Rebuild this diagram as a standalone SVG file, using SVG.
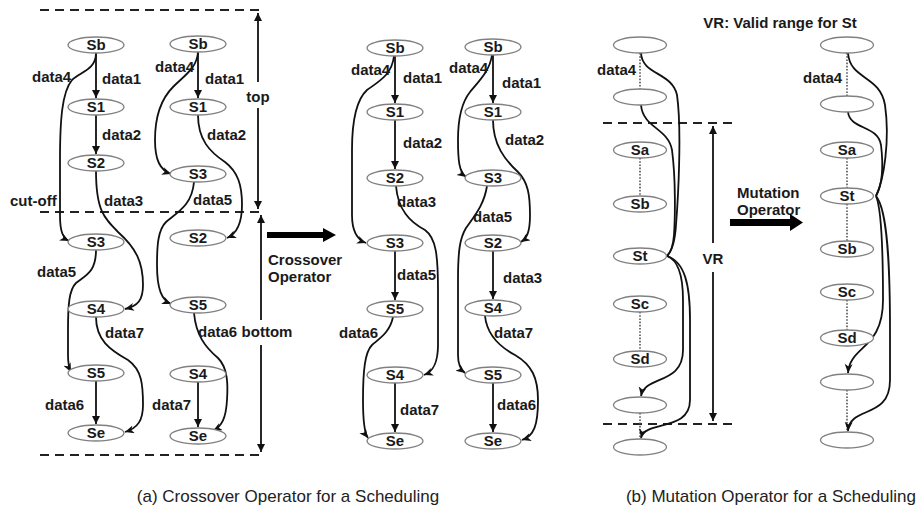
<svg xmlns="http://www.w3.org/2000/svg" width="923" height="510" viewBox="0 0 923 510">
<style>
  .bg{fill:#ffffff}
  .node ellipse{fill:#ffffff;stroke:#808080;stroke-width:1.3}
  .node text,.lbl,.title{font-family:"Liberation Sans",Arial,sans-serif;font-weight:bold;font-size:15px;fill:#1a1a1a}
  .node text{text-anchor:middle}
  .edge{fill:none;stroke:#111;stroke-width:1.8}
  .cur{marker-end:url(#barb)}
  .str{marker-end:url(#tri)}
  .dot{fill:none;stroke:#555;stroke-width:1.6;stroke-dasharray:1.6 1.6}
  .dash{fill:none;stroke:#222;stroke-width:2;stroke-dasharray:9 6}
  .vline{fill:none;stroke:#111;stroke-width:1.8;marker-end:url(#tri);marker-start:url(#tri)}
  .vhalf{fill:none;stroke:#111;stroke-width:1.8}
  .cap{font-family:"Liberation Sans",Arial,sans-serif;font-size:17px;fill:#222;text-anchor:middle}
  .bigarrow{fill:#000}
</style>
<defs>
  <marker id="barb" markerUnits="userSpaceOnUse" markerWidth="11" markerHeight="9" refX="9" refY="4" orient="auto">
    <path d="M0,0 L9,4 L0,8 L2.5,4 z" fill="#111"/>
  </marker>
  <marker id="tri" markerUnits="userSpaceOnUse" markerWidth="10" markerHeight="9" refX="8" refY="4" orient="auto-start-reverse">
    <path d="M0,0 L8,4 L0,8 z" fill="#111"/>
  </marker>
</defs>
<rect class="bg" x="0" y="0" width="923" height="510"/>

<g id="guides">
  <line class="dash" x1="40" y1="10" x2="262" y2="10"/>
  <line class="dash" x1="40" y1="212" x2="262" y2="212"/>
  <line class="dash" x1="40" y1="455" x2="262" y2="455"/>
  <path class="vhalf" d="M258,82 L258,13" marker-end="url(#tri)"/>
  <path class="vhalf" d="M258,108 L258,209" marker-end="url(#tri)"/>
  <path class="vhalf" d="M261,320 L261,215" marker-end="url(#tri)"/>
  <path class="vhalf" d="M261,345 L261,452" marker-end="url(#tri)"/>
  <text class="lbl" x="258" y="102" text-anchor="middle">top</text>
  <text class="lbl" x="267" y="337" text-anchor="middle">bottom</text>
  <polygon class="bigarrow" points="267,232 323,232 323,228 336,235 323,242 323,238 267,238"/>
  <text class="lbl" x="268" y="265">Crossover</text>
  <text class="lbl" x="268" y="282">Operator</text>

  <line class="dash" x1="603" y1="123" x2="735" y2="123"/>
  <line class="dash" x1="603" y1="424" x2="735" y2="424"/>
  <path class="vhalf" d="M713,243 L713,126" marker-end="url(#tri)"/>
  <path class="vhalf" d="M713,272 L713,421" marker-end="url(#tri)"/>
  <text class="lbl" x="713" y="264" text-anchor="middle">VR</text>
  <text class="lbl" x="780" y="28" text-anchor="middle">VR: Valid range for St</text>
  <text class="lbl" x="737" y="198">Mutation</text>
  <text class="lbl" x="737" y="215">Operator</text>
  <polygon class="bigarrow" points="730,219 790,219 790,214 803,222.5 790,231 790,226 730,226"/>
</g>

<g id="connectors">
  <!-- column 1 -->
  <path class="edge str" d="M96,53 L96,98"/>
  <path class="edge str" d="M96,115 L96,154"/>
  <path class="edge str" d="M96,381 L96,424"/>
  <path class="edge cur" d="M96,53 C96,70 80,72 72,80 C62,92 60,120 60,160 L60,215 C60,232 63,238 69,241"/>
  <path class="edge cur" d="M96,171 C96,210 104,218 118,232 C136,248 143,262 143,285 C143,300 138,306 125,309"/>
  <path class="edge cur" d="M96,250 C96,272 86,275 76,283 C69,290 68,305 68,330 L68,355 C68,364 69,368 71,372"/>
  <path class="edge cur" d="M96,317 C96,340 110,350 128,360 C142,370 143,385 143,405 C143,420 138,428 125,432"/>
  <!-- column 2 -->
  <path class="edge str" d="M198,52 L198,98"/>
  <path class="edge str" d="M198,382 L198,427"/>
  <path class="edge cur" d="M198,52 C197,68 185,75 173,87 C160,100 155,120 155,140 C155,160 160,170 171,174"/>
  <path class="edge cur" d="M198,115 C198,140 210,152 225,162 C238,172 242,185 242,205 C242,225 236,234 227,238"/>
  <path class="edge cur" d="M194,182 C192,205 178,212 166,222 C158,230 157,245 157,265 C157,290 162,300 171,304"/>
  <path class="edge cur" d="M194,313 C196,335 205,347 218,358 C228,368 228,385 227,400 C226,418 222,426 213,431"/>
  <!-- column 3 -->
  <path class="edge str" d="M395,56 L395,103"/>
  <path class="edge str" d="M395,120 L395,169"/>
  <path class="edge str" d="M395,251 L395,300"/>
  <path class="edge str" d="M395,383 L395,432"/>
  <path class="edge cur" d="M394,56 C392,75 378,82 367,90 C356,100 352,120 352,150 L352,215 C352,232 358,240 366,243"/>
  <path class="edge cur" d="M396,186 C398,210 410,222 425,230 C436,238 438,255 438,290 L438,345 C438,365 432,372 424,375"/>
  <path class="edge cur" d="M393,317 C390,332 380,338 372,345 C365,352 363,370 363,400 C363,425 365,434 368,438"/>
  <!-- column 4 -->
  <path class="edge str" d="M493,55 L493,103"/>
  <path class="edge str" d="M493,251 L493,299"/>
  <path class="edge str" d="M493,383 L493,432"/>
  <path class="edge cur" d="M492,55 C490,70 480,80 470,92 C462,102 458,118 458,140 C458,160 459,172 466,177"/>
  <path class="edge cur" d="M493,120 C493,145 505,160 518,172 C528,182 530,195 530,215 C530,232 527,238 521,242"/>
  <path class="edge cur" d="M487,186 C484,205 475,215 466,228 C460,238 458,250 458,280 L458,355 C458,365 461,370 465,373"/>
  <path class="edge cur" d="M485,316 C487,335 500,347 515,355 C532,365 538,378 538,400 C538,425 534,436 522,440"/>
  <!-- mutation left -->
  <path class="dot" d="M640,53 L640,89"/>
  <path class="dot" d="M640,158 L640,196"/>
  <path class="dot" d="M640,312 L640,351"/>
  <path class="dot" d="M640,413 L640,439"/>
  <path class="edge" d="M641,53 C642,75 672,72 677,95 C682,130 678,200 676,225 C675,242 671,252 667,256"/>
  <path class="edge" d="M641,105 C643,128 668,128 672,150 C676,180 675,220 674,235 C673,248 670,253 667,256"/>
  <path class="edge cur" d="M667,256 C678,260 683,275 683,300 L683,350 C683,385 645,375 641,396"/>
  <path class="edge cur" d="M667,256 C685,262 690,285 690,320 L690,400 C690,432 645,420 641,438"/>
  <!-- mutation right -->
  <path class="dot" d="M847,53 L847,96"/>
  <path class="dot" d="M847,158 L847,188"/>
  <path class="dot" d="M847,204 L847,241"/>
  <path class="dot" d="M847,300 L847,330"/>
  <path class="dot" d="M847,390 L847,432"/>
  <path class="edge" d="M848,53 C850,80 880,75 885,105 C890,140 884,180 876,196"/>
  <path class="edge" d="M848,112 C850,130 878,125 881,145 C884,170 882,185 876,196"/>
  <path class="edge cur" d="M876,196 C882,210 883,260 883,300 C883,350 850,345 848,373"/>
  <path class="edge cur" d="M876,196 C888,210 890,270 890,330 L890,380 C890,420 850,405 848,431"/>
</g>

<g id="edge-labels">
  <text class="lbl" x="32" y="82">data4</text>
  <text class="lbl" x="102" y="84">data1</text>
  <text class="lbl" x="102" y="140">data2</text>
  <text class="lbl" x="10" y="206">cut-off</text>
  <text class="lbl" x="104" y="206">data3</text>
  <text class="lbl" x="37" y="277">data5</text>
  <text class="lbl" x="105" y="338">data7</text>
  <text class="lbl" x="45" y="410">data6</text>

  <text class="lbl" x="155" y="72">data4</text>
  <text class="lbl" x="205" y="84">data1</text>
  <text class="lbl" x="207" y="140">data2</text>
  <text class="lbl" x="193" y="205">data5</text>
  <text class="lbl" x="198" y="337">data6</text>
  <text class="lbl" x="152" y="410">data7</text>

  <text class="lbl" x="351" y="75">data4</text>
  <text class="lbl" x="403" y="83">data1</text>
  <text class="lbl" x="403" y="148">data2</text>
  <text class="lbl" x="397" y="207">data3</text>
  <text class="lbl" x="397" y="280">data5</text>
  <text class="lbl" x="339" y="338">data6</text>
  <text class="lbl" x="400" y="415">data7</text>

  <text class="lbl" x="449" y="73">data4</text>
  <text class="lbl" x="502" y="88">data1</text>
  <text class="lbl" x="505" y="145">data2</text>
  <text class="lbl" x="473" y="222">data5</text>
  <text class="lbl" x="503" y="283">data3</text>
  <text class="lbl" x="494" y="338">data7</text>
  <text class="lbl" x="497" y="410">data6</text>

  <text class="lbl" x="597" y="75">data4</text>
  <text class="lbl" x="803" y="83">data4</text>
</g>

<!-- nodes: column 1 -->
<g id="c1-Sb" class="node"><ellipse cx="96" cy="45" rx="28" ry="8"/><text x="96" y="50">Sb</text></g>
<g id="c1-S1" class="node"><ellipse cx="96" cy="107" rx="28" ry="8"/><text x="96" y="112">S1</text></g>
<g id="c1-S2" class="node"><ellipse cx="96" cy="163" rx="28" ry="8"/><text x="96" y="168">S2</text></g>
<g id="c1-S3" class="node"><ellipse cx="96" cy="242" rx="28" ry="8"/><text x="96" y="247">S3</text></g>
<g id="c1-S4" class="node"><ellipse cx="96" cy="309" rx="28" ry="8"/><text x="96" y="314">S4</text></g>
<g id="c1-S5" class="node"><ellipse cx="96" cy="373" rx="28" ry="8"/><text x="96" y="378">S5</text></g>
<g id="c1-Se" class="node"><ellipse cx="96" cy="433" rx="28" ry="8"/><text x="96" y="438">Se</text></g>
<!-- column 2 -->
<g id="c2-Sb" class="node"><ellipse cx="198" cy="44" rx="28" ry="8"/><text x="198" y="49">Sb</text></g>
<g id="c2-S1" class="node"><ellipse cx="198" cy="107" rx="28" ry="8"/><text x="198" y="112">S1</text></g>
<g id="c2-S3" class="node"><ellipse cx="198" cy="174" rx="28" ry="8"/><text x="198" y="179">S3</text></g>
<g id="c2-S2" class="node"><ellipse cx="198" cy="238" rx="28" ry="8"/><text x="198" y="243">S2</text></g>
<g id="c2-S5" class="node"><ellipse cx="198" cy="305" rx="28" ry="8"/><text x="198" y="310">S5</text></g>
<g id="c2-S4" class="node"><ellipse cx="198" cy="374" rx="28" ry="8"/><text x="198" y="379">S4</text></g>
<g id="c2-Se" class="node"><ellipse cx="198" cy="436" rx="28" ry="8"/><text x="198" y="441">Se</text></g>
<!-- column 3 -->
<g id="c3-Sb" class="node"><ellipse cx="395" cy="48" rx="28" ry="8"/><text x="395" y="53">Sb</text></g>
<g id="c3-S1" class="node"><ellipse cx="395" cy="112" rx="28" ry="8"/><text x="395" y="117">S1</text></g>
<g id="c3-S2" class="node"><ellipse cx="395" cy="178" rx="28" ry="8"/><text x="395" y="183">S2</text></g>
<g id="c3-S3" class="node"><ellipse cx="395" cy="243" rx="28" ry="8"/><text x="395" y="248">S3</text></g>
<g id="c3-S5" class="node"><ellipse cx="395" cy="309" rx="28" ry="8"/><text x="395" y="314">S5</text></g>
<g id="c3-S4" class="node"><ellipse cx="395" cy="375" rx="28" ry="8"/><text x="395" y="380">S4</text></g>
<g id="c3-Se" class="node"><ellipse cx="395" cy="441" rx="28" ry="8"/><text x="395" y="446">Se</text></g>
<!-- column 4 -->
<g id="c4-Sb" class="node"><ellipse cx="493" cy="47" rx="28" ry="8"/><text x="493" y="52">Sb</text></g>
<g id="c4-S1" class="node"><ellipse cx="493" cy="112" rx="28" ry="8"/><text x="493" y="117">S1</text></g>
<g id="c4-S3" class="node"><ellipse cx="493" cy="178" rx="28" ry="8"/><text x="493" y="183">S3</text></g>
<g id="c4-S2" class="node"><ellipse cx="493" cy="243" rx="28" ry="8"/><text x="493" y="248">S2</text></g>
<g id="c4-S4" class="node"><ellipse cx="493" cy="308" rx="28" ry="8"/><text x="493" y="313">S4</text></g>
<g id="c4-S5" class="node"><ellipse cx="493" cy="375" rx="28" ry="8"/><text x="493" y="380">S5</text></g>
<g id="c4-Se" class="node"><ellipse cx="493" cy="441" rx="28" ry="8"/><text x="493" y="446">Se</text></g>
<!-- mutation left column -->
<g id="m1-e1" class="node"><ellipse cx="640" cy="45" rx="26.5" ry="8"/></g>
<g id="m1-e2" class="node"><ellipse cx="640" cy="97" rx="26.5" ry="8"/></g>
<g id="m1-Sa" class="node"><ellipse cx="640" cy="150" rx="26.5" ry="8"/><text x="640" y="155">Sa</text></g>
<g id="m1-Sb" class="node"><ellipse cx="640" cy="204" rx="26.5" ry="8"/><text x="640" y="209">Sb</text></g>
<g id="m1-St" class="node"><ellipse cx="640" cy="256" rx="26.5" ry="8"/><text x="640" y="261">St</text></g>
<g id="m1-Sc" class="node"><ellipse cx="640" cy="304" rx="26.5" ry="8"/><text x="640" y="309">Sc</text></g>
<g id="m1-Sd" class="node"><ellipse cx="640" cy="359" rx="26.5" ry="8"/><text x="640" y="364">Sd</text></g>
<g id="m1-e3" class="node"><ellipse cx="640" cy="405" rx="26.5" ry="8"/></g>
<g id="m1-e4" class="node"><ellipse cx="640" cy="447" rx="26.5" ry="8"/></g>
<!-- mutation right column -->
<g id="m2-e1" class="node"><ellipse cx="847" cy="45" rx="26.5" ry="8"/></g>
<g id="m2-e2" class="node"><ellipse cx="847" cy="104" rx="26.5" ry="8"/></g>
<g id="m2-Sa" class="node"><ellipse cx="847" cy="150" rx="26.5" ry="8"/><text x="847" y="155">Sa</text></g>
<g id="m2-St" class="node"><ellipse cx="847" cy="196" rx="26.5" ry="8"/><text x="847" y="201">St</text></g>
<g id="m2-Sb" class="node"><ellipse cx="847" cy="249" rx="26.5" ry="8"/><text x="847" y="254">Sb</text></g>
<g id="m2-Sc" class="node"><ellipse cx="847" cy="292" rx="26.5" ry="8"/><text x="847" y="297">Sc</text></g>
<g id="m2-Sd" class="node"><ellipse cx="847" cy="338" rx="26.5" ry="8"/><text x="847" y="343">Sd</text></g>
<g id="m2-e3" class="node"><ellipse cx="847" cy="382" rx="26.5" ry="8"/></g>
<g id="m2-e4" class="node"><ellipse cx="847" cy="440" rx="26.5" ry="8"/></g>

<g id="captions">
  <text class="cap" x="288" y="502">(a) Crossover Operator for a Scheduling</text>
  <text class="cap" x="771" y="502">(b) Mutation Operator for a Scheduling</text>
</g>
</svg>
